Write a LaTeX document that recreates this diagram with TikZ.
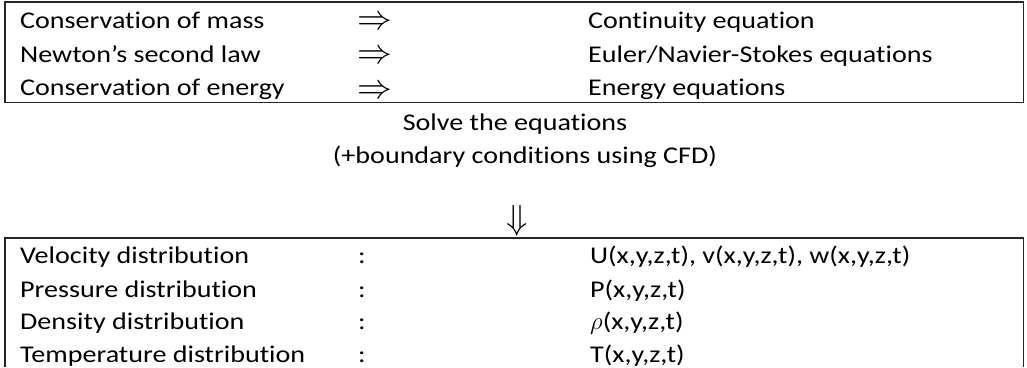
\documentclass[tikz,border=0pt]{standalone}
\usepackage{graphicx}
\usepackage{fontspec}
\setmainfont{Carlito}[FakeStretch=1.17, Ligatures=NoCommon]

\begin{document}
\begin{tikzpicture}[x=1pt,y=-1pt,
    txt/.style={anchor=base west, inner sep=0pt, font=\fontsize{24}{28}\selectfont},
    mid/.style={anchor=base, inner sep=0pt, font=\fontsize{24}{28}\selectfont},
    frame/.style={line width=1.5pt, draw=black!85}]
                \useasboundingbox (0,0) rectangle (1027,367);
                % laws -> equations
                \draw[frame] (5,2) rectangle (1023.5,102.5);
                \node[txt] (mass) at (20,28) {Conservation of mass};
                \node[txt] (newton) at (20,62) {Newton’s second law};
                \node[txt] (energy) at (20,95) {Conservation of energy};
                \node[txt] (imass) at (357,29) {\scalebox{1.4}{$\Rightarrow$}};
                \node[txt] (inewton) at (357,63.5) {\scalebox{1.4}{$\Rightarrow$}};
                \node[txt] (ienergy) at (357,98) {\scalebox{1.4}{$\Rightarrow$}};
                \node[txt] (cont) at (588,28) {Continuity equation};
                \node[txt] (ns) at (588,62) {Euler/Navier-Stokes equations};
                \node[txt] (eneq) at (588,95) {Energy equations};
                % solve step
                \node[mid] (solve) at (515,130) {Solve the equations};
                \node[mid] (bc) at (525,163) {(+boundary conditions using CFD)};
                \node[mid] (down) at (517,229) {\scalebox{1.4}{$\Downarrow$}};
                % results
                \draw[frame] (5,367) |- (1023.5,238) -- (1023.5,367);
                \node[txt] (vel) at (20,263) {Velocity distribution};
                \node[txt] (pres) at (20,297) {Pressure distribution};
                \node[txt] (dens) at (20,329) {Density distribution};
                \node[txt] (temp) at (20,362) {Temperature distribution};
                \node[txt] (cvel) at (358,263) {:};
                \node[txt] (cpres) at (358,297) {:};
                \node[txt] (cdens) at (358,329) {:};
                \node[txt] (ctemp) at (358,362) {:};
                \node[txt] (uvw) at (590,263) {U(x,y,z,t), v(x,y,z,t), w(x,y,z,t)};
                \node[txt] (p) at (590,297) {P(x,y,z,t)};
                \node[txt] (rho) at (590,329) {$\rho$(x,y,z,t)};
                \node[txt] (t) at (590,362) {T(x,y,z,t)};
\end{tikzpicture}
\end{document}
